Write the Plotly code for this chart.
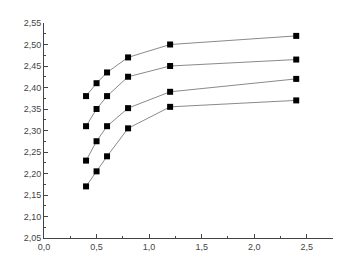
import plotly.graph_objects as go

x_vals = [0.4, 0.5, 0.6, 0.8, 1.2, 2.4]
series_1 = [2.38, 2.41, 2.435, 2.47, 2.50, 2.52]
series_2 = [2.31, 2.35, 2.38, 2.425, 2.45, 2.465]
series_3 = [2.23, 2.275, 2.31, 2.352, 2.39, 2.42]
series_4 = [2.17, 2.205, 2.24, 2.305, 2.355, 2.37]
x_ticks = [0.0, 0.5, 1.0, 1.5, 2.0, 2.5]
y_ticks = [2.05, 2.10, 2.15, 2.20, 2.25, 2.30, 2.35, 2.40, 2.45, 2.50, 2.55]

fig = go.Figure()
for s in [series_1, series_2, series_3, series_4]:
    fig.add_trace(go.Scatter(
        x=x_vals, y=s, mode="lines+markers",
        line=dict(color="#8a8a8a", width=1),
        marker=dict(symbol="square", size=6, color="black"),
        showlegend=False))

axis_common = dict(
    showgrid=False, zeroline=False, showline=True, linecolor="#444444", linewidth=1,
    ticks="inside", ticklen=4, tickcolor="#444444",
    tickfont=dict(family="Liberation Sans, Arial", size=9, color="#444444"),
    minor=dict(ticks="inside", ticklen=2, tickcolor="#444444"),
)

fig.update_layout(
    width=346, height=267,
    margin=dict(l=44, r=13, t=23, b=29),
    paper_bgcolor="white", plot_bgcolor="white",
    separators=",.",
    xaxis=dict(range=[0, 2.75], tickvals=x_ticks, tickformat=".1f",
               minor_dtick=0.25, **axis_common),
    yaxis=dict(range=[2.05, 2.55], tickvals=y_ticks, tickformat=".2f",
               minor_dtick=0.025, **axis_common),
)
fig.write_html("out.html")
